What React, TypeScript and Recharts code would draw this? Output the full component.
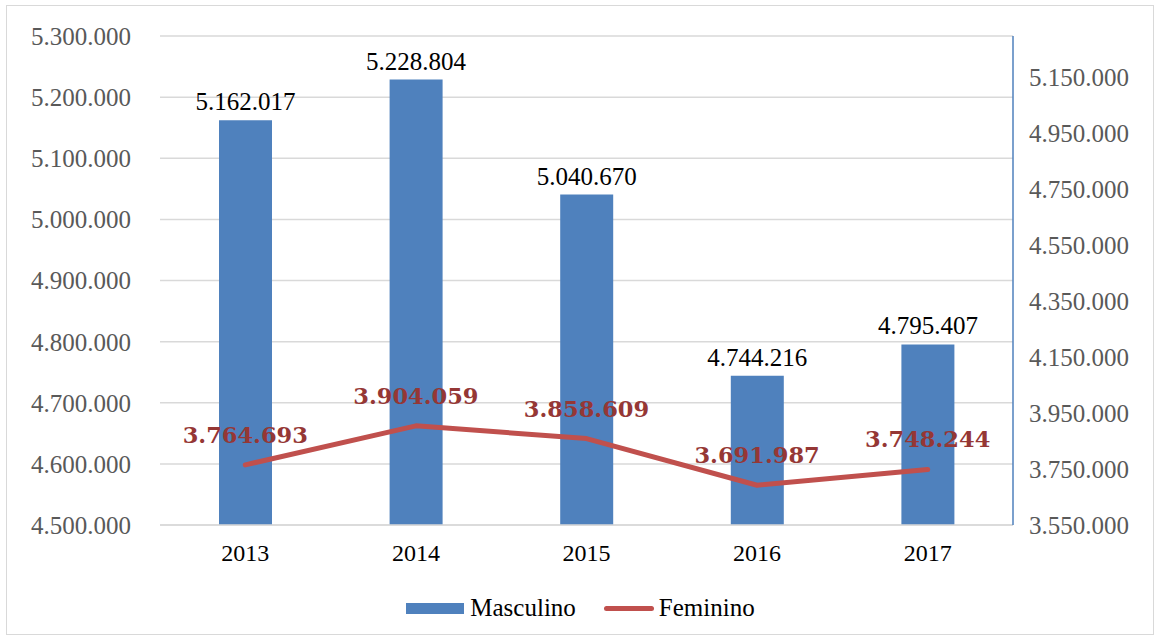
import React from "react"
import {
  ComposedChart,
  Bar,
  Line,
  XAxis,
  YAxis,
  CartesianGrid,
  Legend,
  LabelList,
} from "recharts"

const years = ["2013", "2014", "2015", "2016", "2017"]
const masculino = [5162017, 5228804, 5040670, 4744216, 4795407]
const feminino = [3764693, 3904059, 3858609, 3691987, 3748244]

const leftTicks = [4500000, 4600000, 4700000, 4800000, 4900000, 5000000, 5100000, 5200000, 5300000]
const rightTicks = [3550000, 3750000, 3950000, 4150000, 4350000, 4550000, 4750000, 4950000, 5150000]

const data = years.map((year, i) => ({
  year,
  Masculino: masculino[i],
  Feminino: feminino[i],
}))

// 5162017 -> "5.162.017"
const fmt = (v: number | string) =>
  String(Math.round(Number(v))).replace(/\B(?=(\d{3})+(?!\d))/g, ".")

const serif = "'Liberation Serif', serif"
const boldSerif = "'DejaVu Serif', serif"

function LegendContent() {
  return (
    <div
      style={{
        display: "flex",
        justifyContent: "center",
        alignItems: "center",
        height: 30,
        fontFamily: serif,
        fontSize: 25,
        color: "#000",
      }}
    >
      <span style={{ display: "inline-block", width: 58, height: 11, background: "#4f81bd", marginRight: 6 }} />
      <span style={{ marginRight: 28 }}>Masculino</span>
      <span
        style={{
          display: "inline-block",
          width: 50,
          height: 5,
          borderRadius: 3,
          background: "#c0504d",
          marginRight: 5,
        }}
      />
      <span>Feminino</span>
    </div>
  )
}

export default function App() {
  return (
    <div style={{ position: "absolute", left: 0, top: 0, width: 1161, height: 641, background: "#fff" }}>
      <div
        style={{
          position: "absolute",
          left: 6,
          top: 5,
          width: 1146,
          height: 628,
          border: "1px solid #d9d9d9",
        }}
      />
      <ComposedChart
        width={1161}
        height={641}
        data={data}
        margin={{ top: 36, right: 0, bottom: 46, left: 0 }}
        style={{ position: "absolute", left: 0, top: 0 }}
      >
        <CartesianGrid vertical={false} stroke="#d9d9d9" strokeWidth={1.5} yAxisId="left" />
        <XAxis
          dataKey="year"
          height={40}
          axisLine={{ stroke: "#d9d9d9", strokeWidth: 1.5 }}
          tickLine={false}
          tickSize={0}
          tickMargin={19}
          tick={{ fill: "#000", fontSize: 24, fontFamily: serif }}
        />
        <YAxis
          yAxisId="left"
          orientation="left"
          width={160}
          domain={[4500000, 5300000]}
          ticks={leftTicks}
          allowDataOverflow
          axisLine={false}
          tickLine={false}
          tickSize={0}
          tickMargin={29}
          tickFormatter={fmt}
          tick={{ fill: "#595959", fontSize: 25, fontFamily: serif }}
        />
        <YAxis
          yAxisId="right"
          orientation="right"
          width={148}
          domain={[3550000, 5296000]}
          ticks={rightTicks}
          allowDataOverflow
          axisLine={{ stroke: "#4f81bd", strokeWidth: 1.5 }}
          tickLine={false}
          tickSize={0}
          tickMargin={16}
          tickFormatter={fmt}
          tick={{ fill: "#595959", fontSize: 25, fontFamily: serif, textAnchor: "start" }}
        />
        <Bar yAxisId="left" dataKey="Masculino" fill="#4f81bd" barSize={53} isAnimationActive={false}>
          <LabelList
            dataKey="Masculino"
            position="top"
            offset={10}
            formatter={fmt}
            style={{ fill: "#000", fontSize: 25, fontFamily: serif }}
          />
        </Bar>
        <Line
          yAxisId="right"
          dataKey="Feminino"
          stroke="#c0504d"
          strokeWidth={5}
          strokeLinecap="round"
          strokeLinejoin="round"
          dot={false}
          activeDot={false}
          isAnimationActive={false}
        >
          <LabelList
            dataKey="Feminino"
            position="top"
            offset={22}
            formatter={fmt}
            style={{ fill: "#953735", fontSize: 22.5, fontWeight: "bold", fontFamily: boldSerif }}
          />
        </Line>
        <Legend content={<LegendContent />} wrapperStyle={{ top: 593, left: 0, width: 1161 }} />
      </ComposedChart>
    </div>
  )
}
